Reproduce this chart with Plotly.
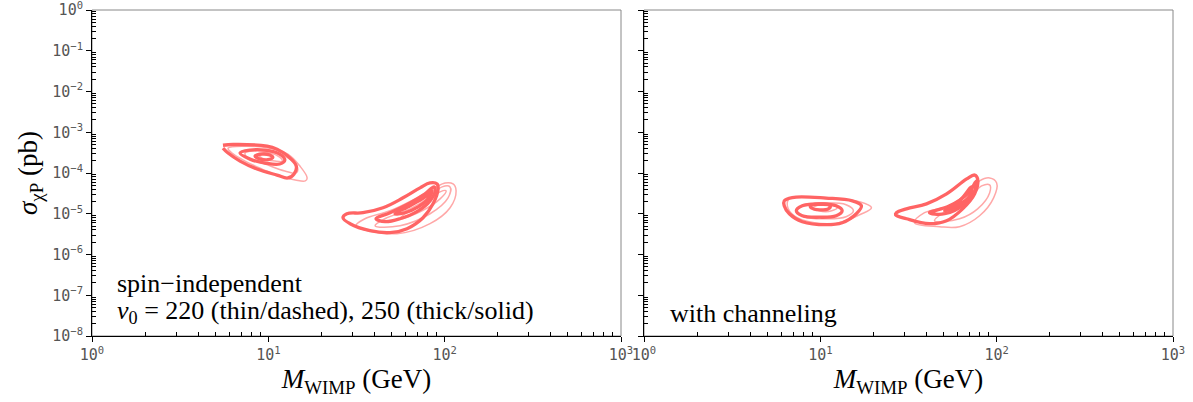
import plotly.graph_objects as go

# ---------------- data ----------------
mass_ticks = [1, 10, 100, 1000]
mass_tick_labels = ["10<sup>0</sup>", "10<sup>1</sup>", "10<sup>2</sup>", "10<sup>3</sup>"]
sigma_ticks = [1e-8, 1e-7, 1e-6, 1e-5, 1e-4, 1e-3, 1e-2, 1e-1, 1]
sigma_tick_labels = ["10<sup>−8</sup>", "10<sup>−7</sup>", "10<sup>−6</sup>", "10<sup>−5</sup>",
                     "10<sup>−4</sup>", "10<sup>−3</sup>", "10<sup>−2</sup>", "10<sup>−1</sup>",
                     "10<sup>0</sup>"]
mass_minor = [m * d for d in (1, 10, 100) for m in range(2, 10)]
sigma_minor = [m * d for d in (1e-8, 1e-7, 1e-6, 1e-5, 1e-4, 1e-3, 1e-2, 1e-1) for m in range(2, 10)]

# Left panel (spin-independent), low-mass region
L1_thick_outer_M = [5.53, 6.31, 9.84, 11.2, 12.9, 14.4, 14.0, 12.9, 11.2, 8.63, 6.91, 5.91, 5.53]
L1_thick_outer_S = [4.8e-4, 5.0e-4, 4.56e-4, 3.85e-4, 2.6e-4, 1.48e-4, 9.5e-5, 7.55e-5, 8.9e-5, 1.25e-4, 1.96e-4, 3.08e-4, 4.07e-4]
L1_thick_mid_M = [6.91, 7.87, 9.58, 11.6, 12.4, 11.6, 9.58, 7.87, 6.91]
L1_thick_mid_S = [3.08e-4, 3.64e-4, 3.64e-4, 2.91e-4, 2.07e-4, 1.66e-4, 1.75e-4, 2.19e-4, 3.08e-4]
L1_thick_in_M = [8.41, 9.21, 10.2, 10.6, 9.96, 8.98, 8.41]
L1_thick_in_S = [2.6e-4, 2.91e-4, 2.75e-4, 2.39e-4, 2.13e-4, 2.19e-4, 2.6e-4]
L1_thin_outer_M = [5.91, 7.38, 10.2, 12.9, 15.1, 16.6, 16.2, 14.2, 11.6, 9.21, 7.38, 6.22, 5.91]
L1_thin_outer_S = [4.07e-4, 4.56e-4, 4.07e-4, 2.91e-4, 1.48e-4, 7.55e-5, 6.38e-5, 6.75e-5, 8.45e-5, 1.25e-4, 1.96e-4, 3.08e-4, 4.07e-4]
L1_thin_mid_M = [7.38, 9.58, 12.4, 14.6, 14.4, 12.4, 9.58, 7.67, 7.38]
L1_thin_mid_S = [3.08e-4, 3.44e-4, 2.6e-4, 1.4e-4, 1.0e-4, 1.12e-4, 1.66e-4, 2.32e-4, 3.08e-4]
L1_thin_in_M = [8.75, 10.2, 11.6, 12.0, 10.9, 9.21, 8.75]
L1_thin_in_S = [2.91e-4, 3.08e-4, 2.46e-4, 1.96e-4, 1.96e-4, 2.32e-4, 2.91e-4]

# Left panel, high-mass region
L2_thick_outer_M = [26.5, 29.1, 37.7, 49.0, 61.2, 75.4, 85.9, 91.8, 90.6, 82.6, 72.5, 58.1, 44.7, 34.4, 27.9, 26.5]
L2_thick_outer_S = [7.98e-6, 5.7e-6, 3.85e-6, 3.44e-6, 4.31e-6, 7.98e-6, 1.75e-5, 4.07e-5, 5.39e-5, 5.7e-5, 4.31e-5, 2.46e-5, 1.4e-5, 1.06e-5, 1.0e-5, 7.98e-6]
L2_thick_mid_M = [40.8, 49.0, 63.6, 77.4, 87.0, 88.3, 82.6, 70.7, 55.8, 45.9, 40.8]
L2_thick_mid_S = [7.55e-6, 1.06e-5, 1.85e-5, 3.08e-5, 4.56e-5, 3.64e-5, 2.07e-5, 1.18e-5, 7.55e-6, 6.38e-6, 7.55e-6]
L2_thick_in_M = [52.3, 63.6, 77.4, 84.8, 80.5, 70.7, 59.6, 52.3]
L2_thick_in_S = [1.0e-5, 1.57e-5, 2.6e-5, 3.64e-5, 2.32e-5, 1.48e-5, 1.06e-5, 1.0e-5]
L2_thin_outer_M = [31.4, 53.7, 82.6, 107.3, 116.1, 111.6, 100.5, 85.9, 67.9, 49.0, 35.3, 31.4]
L2_thin_outer_S = [5.1e-6, 3.25e-6, 5.7e-6, 1.4e-5, 3.64e-5, 5.39e-5, 5.7e-5, 4.07e-5, 2.32e-5, 1.18e-5, 7.55e-6, 5.1e-6]
L2_thin_mid_M = [40.3, 55.8, 82.6, 104.5, 107.3, 96.7, 82.6, 63.6, 45.9, 40.3]
L2_thin_mid_S = [5.1e-6, 5.1e-6, 1.0e-5, 2.46e-5, 4.56e-5, 4.56e-5, 2.6e-5, 1.32e-5, 7.55e-6, 5.1e-6]
L2_thin_in_M = [55.8, 72.5, 94.2, 101.9, 94.2, 77.4, 59.6, 55.8]
L2_thin_in_S = [7.55e-6, 1.12e-5, 2.32e-5, 3.64e-5, 3.44e-5, 1.85e-5, 1.0e-5, 7.55e-6]

# Right panel (with channeling), low-mass region
R1_thick_outer_M = [6.24, 6.93, 10.8, 15.2, 17.1, 16.0, 13.3, 10.8, 7.90, 6.67, 6.24, 6.24]
R1_thick_outer_S = [2.07e-5, 2.5e-5, 2.42e-5, 2.07e-5, 1.57e-5, 1.0e-5, 6.03e-6, 5.39e-6, 6.38e-6, 1.0e-5, 1.57e-5, 2.07e-5]
R1_thick_mid_M = [7.31, 7.90, 9.87, 12.3, 13.3, 12.3, 9.87, 7.90, 7.31]
R1_thick_mid_S = [1.18e-5, 1.57e-5, 1.71e-5, 1.57e-5, 1.18e-5, 8.93e-6, 8.22e-6, 8.93e-6, 1.18e-5]
R1_thick_in_M = [8.77, 9.25, 10.1, 11.0, 11.4, 11.0, 10.1, 9.25, 8.77]
R1_thick_in_S = [1.48e-5, 1.71e-5, 1.75e-5, 1.71e-5, 1.48e-5, 1.29e-5, 1.25e-5, 1.29e-5, 1.48e-5]
R1_thin_outer_M = [6.50, 6.67, 11.3, 16.7, 19.5, 16.7, 12.8, 9.25, 7.11, 6.50]
R1_thin_outer_S = [1.57e-5, 2.32e-5, 2.32e-5, 1.96e-5, 1.4e-5, 9.45e-6, 6.03e-6, 6.03e-6, 8.93e-6, 1.57e-5]
R1_thin_mid_M = [7.40, 8.11, 10.7, 14.0, 15.4, 14.0, 10.7, 8.11, 7.40]
R1_thin_mid_S = [1.18e-5, 1.66e-5, 1.85e-5, 1.66e-5, 1.18e-5, 8.45e-6, 7.55e-6, 8.45e-6, 1.18e-5]
R1_thin_in_M = [9.12, 9.87, 10.7, 11.6, 12.5, 11.6, 10.7, 9.87, 9.12]
R1_thin_in_S = [1.4e-5, 1.66e-5, 1.75e-5, 1.66e-5, 1.4e-5, 1.18e-5, 1.12e-5, 1.18e-5, 1.4e-5]

# Right panel, high-mass region
R2_thick_outer_M = [26.7, 30.8, 41.6, 52.0, 64.1, 75.0, 78.0, 75.0, 67.6, 52.0, 40.0, 30.8, 27.0, 26.7]
R2_thick_outer_S = [9.45e-6, 7.55e-6, 5.7e-6, 6.75e-6, 1.32e-5, 3.08e-5, 7.14e-5, 8.9e-5, 7.14e-5, 3.08e-5, 1.75e-5, 1.32e-5, 1.06e-5, 9.45e-6]
R2_thick_mid_M = [41.6, 54.1, 68.4, 76.9, 75.0, 65.8, 50.7, 41.6]
R2_thick_mid_S = [1.06e-5, 1.57e-5, 3.08e-5, 6.38e-5, 3.64e-5, 1.75e-5, 1.0e-5, 1.06e-5]
R2_thick_in_M = [50.7, 61.6, 72.1, 70.3, 60.0, 50.7]
R2_thick_in_S = [1.18e-5, 2.07e-5, 4.56e-5, 2.75e-5, 1.57e-5, 1.18e-5]
R2_thin_outer_M = [34.2, 47.4, 61.6, 80.0, 96.1, 100.0, 91.2, 80.0, 68.4, 54.1, 39.0, 34.2]
R2_thin_outer_S = [6.03e-6, 4.82e-6, 4.82e-6, 8.93e-6, 2.46e-5, 5.7e-5, 7.55e-5, 6.38e-5, 3.25e-5, 1.57e-5, 1.06e-5, 6.03e-6]
R2_thin_mid_M = [44.4, 61.6, 78.0, 91.2, 91.2, 82.2, 70.3, 54.1, 44.4]
R2_thin_mid_S = [6.75e-6, 7.55e-6, 1.32e-5, 3.25e-5, 5.1e-5, 4.82e-5, 2.46e-5, 1.32e-5, 6.75e-6]

THICK_COLOR = "#ff6464"
THIN_COLOR = "#ffa8a8"

left_thin = [(L1_thin_outer_M, L1_thin_outer_S), (L1_thin_mid_M, L1_thin_mid_S), (L1_thin_in_M, L1_thin_in_S),
             (L2_thin_outer_M, L2_thin_outer_S), (L2_thin_mid_M, L2_thin_mid_S), (L2_thin_in_M, L2_thin_in_S)]
left_thick = [(L1_thick_outer_M, L1_thick_outer_S), (L1_thick_mid_M, L1_thick_mid_S), (L1_thick_in_M, L1_thick_in_S),
              (L2_thick_outer_M, L2_thick_outer_S), (L2_thick_mid_M, L2_thick_mid_S), (L2_thick_in_M, L2_thick_in_S)]
right_thin = [(R1_thin_outer_M, R1_thin_outer_S), (R1_thin_mid_M, R1_thin_mid_S), (R1_thin_in_M, R1_thin_in_S),
              (R2_thin_outer_M, R2_thin_outer_S), (R2_thin_mid_M, R2_thin_mid_S)]
right_thick = [(R1_thick_outer_M, R1_thick_outer_S), (R1_thick_mid_M, R1_thick_mid_S), (R1_thick_in_M, R1_thick_in_S),
               (R2_thick_outer_M, R2_thick_outer_S), (R2_thick_mid_M, R2_thick_mid_S), (R2_thick_in_M, R2_thick_in_S)]

fig = go.Figure()


def add_contours(curves, xa, ya, color, width):
    for m, s in curves:
        fig.add_trace(go.Scatter(x=m, y=s, mode="lines", xaxis=xa, yaxis=ya,
                                 line=dict(color=color, width=width, shape="spline", smoothing=1.1),
                                 hoverinfo="skip", showlegend=False))


add_contours(left_thin, "x", "y", THIN_COLOR, 1.5)
add_contours(left_thick, "x", "y", THICK_COLOR, 3.3)
add_contours(right_thin, "x2", "y2", THIN_COLOR, 1.5)
add_contours(right_thick, "x2", "y2", THICK_COLOR, 3.3)

W, H = 1193, 402
xd1 = [92 / W, 621 / W]
xd2 = [644 / W, 1173 / W]
yd = [(H - 336) / H, (H - 10) / H]

tickfont = dict(family="DejaVu Sans Mono", size=15, color="#555555")
serif = "Liberation Serif"

xcommon = dict(type="log", range=[0, 3], tickmode="array", tickvals=mass_ticks,
               ticks="outside", ticklen=5, tickwidth=1, tickcolor="black",
               showline=True, linecolor="black", linewidth=1, showgrid=False, zeroline=False,
               minor=dict(tickmode="array", tickvals=mass_minor, ticks="inside", ticklen=4,
                          tickcolor="black", showgrid=False),
               tickfont=tickfont, automargin=False, ticklabeloverflow="allow")
ycommon = dict(type="log", range=[-8, 0], tickmode="array", tickvals=sigma_ticks,
               ticks="outside", ticklen=5, tickwidth=1, tickcolor="black",
               showline=True, linecolor="black", linewidth=1, showgrid=False, zeroline=False,
               minor=dict(tickmode="array", tickvals=sigma_minor, ticks="inside", ticklen=4,
                          tickcolor="black", showgrid=False),
               tickfont=tickfont, automargin=False, domain=yd, ticklabeloverflow="allow")

xtitle = dict(text="<i>M</i><sub>WIMP</sub> (GeV)", font=dict(family=serif, size=27, color="black"), standoff=6)

fig.update_layout(
    width=W, height=H, margin=dict(l=0, r=0, t=0, b=0),
    paper_bgcolor="white", plot_bgcolor="white", showlegend=False,
    xaxis=dict(xcommon, domain=xd1, anchor="y", ticktext=mass_tick_labels, title=xtitle),
    xaxis2=dict(xcommon, domain=xd2, anchor="y2", ticktext=mass_tick_labels, title=xtitle),
    yaxis=dict(ycommon, anchor="x", ticktext=sigma_tick_labels,
               title=dict(text="<i>σ</i><sub>χP</sub> (pb)", font=dict(family=serif, size=27, color="black"),
                          standoff=6)),
    yaxis2=dict(ycommon, anchor="x2", showticklabels=False),
    # overlay axes to draw the inner half of the major ticks
    xaxis3=dict(type="log", range=[0, 3], overlaying="x", anchor="y", side="bottom", tickmode="array",
                tickvals=mass_ticks, ticks="inside", ticklen=6, tickcolor="black", showticklabels=False,
                showline=False, showgrid=False, zeroline=False),
    xaxis4=dict(type="log", range=[0, 3], overlaying="x2", anchor="y2", side="bottom", tickmode="array",
                tickvals=mass_ticks, ticks="inside", ticklen=6, tickcolor="black", showticklabels=False,
                showline=False, showgrid=False, zeroline=False),
    yaxis3=dict(type="log", range=[-8, 0], overlaying="y", anchor="x", side="left", tickmode="array",
                tickvals=sigma_ticks, ticks="inside", ticklen=6, tickcolor="black", showticklabels=False,
                showline=False, showgrid=False, zeroline=False),
    yaxis4=dict(type="log", range=[-8, 0], overlaying="y2", anchor="x2", side="left", tickmode="array",
                tickvals=sigma_ticks, ticks="inside", ticklen=6, tickcolor="black", showticklabels=False,
                showline=False, showgrid=False, zeroline=False),
)

# frames (grey top/right borders)
for xr, yr in (("x domain", "y domain"), ("x2 domain", "y2 domain")):
    fig.add_shape(type="rect", xref=xr, yref=yr, x0=0, x1=1, y0=0, y1=1,
                  line=dict(color="#888888", width=1), layer="below")

annfont = dict(family=serif, size=26, color="black")
fig.add_annotation(text="spin−independent", xref="paper", yref="paper", x=115 / W, y=1 - 283 / H,
                   xanchor="left", yanchor="middle", showarrow=False, font=annfont)
fig.add_annotation(text="<i>v</i><sub>0</sub> = 220 (thin/dashed), 250 (thick/solid)", xref="paper", yref="paper",
                   x=115 / W, y=1 - 312 / H, xanchor="left", yanchor="middle", showarrow=False, font=annfont)
fig.add_annotation(text="with channeling", xref="paper", yref="paper", x=668 / W, y=1 - 313 / H,
                   xanchor="left", yanchor="middle", showarrow=False, font=annfont)

fig.write_html("out.html")
